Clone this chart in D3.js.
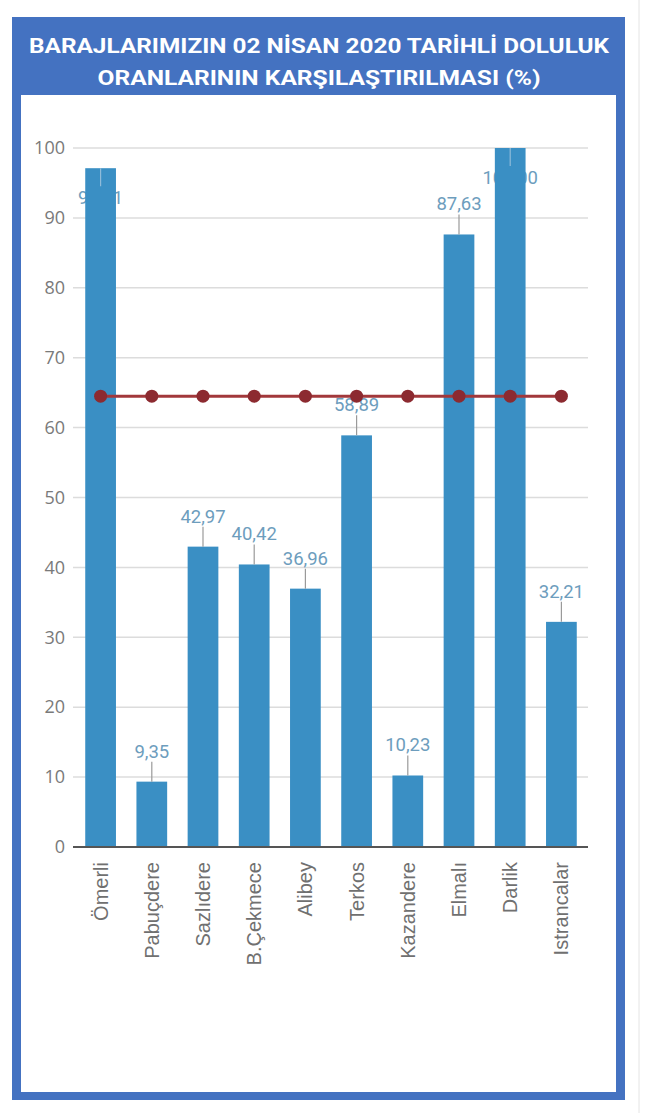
<!DOCTYPE html>
<html>
<head>
<meta charset="utf-8">
<script src="https://cdn.jsdelivr.net/npm/d3@7"></script>
<style>
  html, body { margin: 0; padding: 0; background: #fff; }
  svg { display: block; }
</style>
</head>
<body>
<svg></svg>
<script>
var width = 656;
var height = 1113;

var titleLines = ["BARAJLARIMIZIN 02 NİSAN 2020 TARİHLİ DOLULUK",
                  "ORANLARININ KARŞILAŞTIRILMASI (%)"];

var dams = ["Ömerli", "Pabuçdere", "Sazlıdere", "B.Çekmece", "Alibey",
            "Terkos", "Kazandere", "Elmalı", "Darlik", "Istrancalar"];
var fillRates = [97.11, 9.35, 42.97, 40.42, 36.96, 58.89, 10.23, 87.63, 100.00, 32.21];
var lastYear = [64.5, 64.5, 64.5, 64.5, 64.5, 64.5, 64.5, 64.5, 64.5, 64.5];
var yTicks = [0, 10, 20, 30, 40, 50, 60, 70, 80, 90, 100];

var rows = dams.map((d, i) => ({ dam: d, value: fillRates[i], ref: lastYear[i] }));

var blue = "#4472c1";
var barColor = "#3a8fc4";
var labelColor = "#6d9dbd";
var fmt = v => d3.format(".2f")(v).replace(".", ",");

var svg = d3.select("svg")
    .attr("width", width)
    .attr("height", height);

// frame
svg.append("rect")
    .attr("x", 12).attr("y", 17)
    .attr("width", 613).attr("height", 1083)
    .attr("fill", blue);
svg.append("rect")
    .attr("x", 21).attr("y", 95)
    .attr("width", 595).attr("height", 997)
    .attr("fill", "#fff");
svg.append("line")
    .attr("x1", 639).attr("x2", 639)
    .attr("y1", 0).attr("y2", height)
    .attr("stroke", "#e4e4e4");

svg.selectAll(".title")
  .data(titleLines)
  .enter()
  .append("text")
    .attr("class", "title")
    .text(d => d)
    .attr("x", 319)
    .attr("y", (d, i) => 53 + i * 32)
    .attr("text-anchor", "middle")
    .attr("textLength", (d, i) => i === 0 ? 580 : 443)
    .attr("lengthAdjust", "spacingAndGlyphs")
    .style("font-family", "Roboto, sans-serif")
    .style("font-weight", "bold")
    .style("font-size", "21px")
    .attr("fill", "#fff");

var xScale = d3.scaleBand()
    .domain(dams)
    .range([75, 587])
    .paddingInner(0.4)
    .paddingOuter(0.2);

var yScale = d3.scaleLinear()
    .domain([0, 100])
    .range([847, 148]);

// grid
svg.append("g")
  .selectAll("line")
  .data(yTicks)
  .enter()
  .append("line")
    .attr("x1", 73).attr("x2", 588)
    .attr("y1", d => yScale(d)).attr("y2", d => yScale(d))
    .attr("stroke", "#dcdcdc")
    .attr("stroke-width", 1.5);

var yAxis = d3.axisLeft(yScale)
    .tickValues(yTicks)
    .tickSize(0)
    .tickPadding(8);

svg.append("g")
    .attr("transform", "translate(73,0)")
    .call(yAxis)
    .call(g => g.select(".domain").remove())
    .call(g => g.selectAll("text")
        .style("font-family", "'Open Sans', sans-serif")
        .style("font-size", "18px")
        .attr("fill", "#7a7a7a"));

// value labels (drawn under the bars)
var flip = d => d.value > 95;
var labelY = d => flip(d) ? yScale(d.value) + 36 : yScale(d.value) - 24;

svg.append("g")
  .selectAll("text")
  .data(rows)
  .enter()
  .append("text")
    .text(d => fmt(d.value))
    .attr("x", d => xScale(d.dam) + xScale.bandwidth() / 2)
    .attr("y", labelY)
    .attr("text-anchor", "middle")
    .style("font-family", "Roboto, sans-serif")
    .style("font-size", "18.5px")
    .attr("fill", labelColor);

svg.append("g")
  .selectAll("rect")
  .data(rows)
  .enter()
  .append("rect")
    .attr("x", d => xScale(d.dam))
    .attr("y", d => yScale(d.value))
    .attr("width", xScale.bandwidth())
    .attr("height", d => yScale(0) - yScale(d.value))
    .attr("fill", barColor);

// leader lines
svg.append("g")
  .selectAll("line")
  .data(rows)
  .enter()
  .append("line")
    .attr("x1", d => xScale(d.dam) + xScale.bandwidth() / 2)
    .attr("x2", d => xScale(d.dam) + xScale.bandwidth() / 2)
    .attr("y1", d => yScale(d.value))
    .attr("y2", d => flip(d) ? yScale(d.value) + 18 : yScale(d.value) - 20)
    .attr("stroke", d => flip(d) ? "#8fbbd9" : "#9a9a9a")
    .attr("stroke-width", 1.2);

// baseline
svg.append("line")
    .attr("x1", 73).attr("x2", 588)
    .attr("y1", yScale(0)).attr("y2", yScale(0))
    .attr("stroke", "#555")
    .attr("stroke-width", 2);

// reference line
var line = d3.line()
    .x(d => xScale(d.dam) + xScale.bandwidth() / 2)
    .y(d => yScale(d.ref));

svg.append("path")
    .datum(rows)
    .attr("d", line)
    .attr("fill", "none")
    .attr("stroke", "#a2383b")
    .attr("stroke-width", 3);

svg.append("g")
  .selectAll("circle")
  .data(rows)
  .enter()
  .append("circle")
    .attr("cx", d => xScale(d.dam) + xScale.bandwidth() / 2)
    .attr("cy", d => yScale(d.ref))
    .attr("r", 6.5)
    .attr("fill", "#8c2a30");

// x labels
var xAxis = d3.axisBottom(xScale)
    .tickSize(0)
    .tickPadding(0);

svg.append("g")
    .attr("transform", "translate(0," + yScale(0) + ")")
    .call(xAxis)
    .call(g => g.select(".domain").remove())
    .call(g => g.selectAll("text")
        .attr("transform", "rotate(-90)")
        .attr("x", -15)
        .attr("y", 0)
        .attr("dy", "0.35em")
        .attr("text-anchor", "end")
        .style("font-family", "'Liberation Sans', Arial, sans-serif")
        .style("font-size", "20px")
        .attr("fill", "#707070"));
</script>
</body>
</html>
